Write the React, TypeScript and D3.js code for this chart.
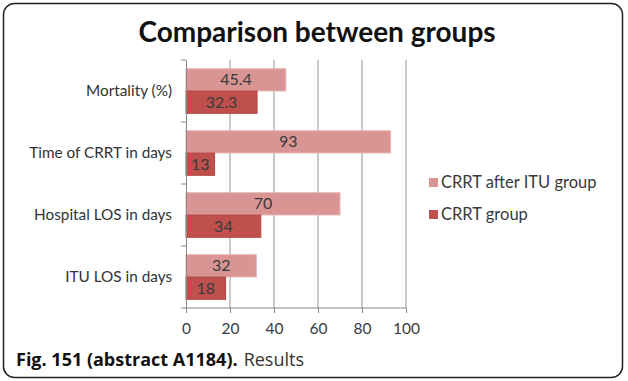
import * as d3 from "d3";
import { useEffect, useRef } from "react";

const categories = ["Mortality (%)", "Time of CRRT in days", "Hospital LOS in days", "ITU LOS in days"];
const seriesNames = ["CRRT after ITU group", "CRRT group"];
const afterItu = [45.4, 93, 70, 32];
const crrtGroup = [32.3, 13, 34, 18];
const xTicks = [0, 20, 40, 60, 80, 100];
const colors = ["#d99594", "#c0504d"];
const strokes = ["#e8b7b6", "#b24542"];

export default function App() {
  const svgRef = useRef<SVGSVGElement>(null);

  useEffect(() => {
    const width = 628, height = 381;
    const svg = d3.select(svgRef.current).attr("width", width).attr("height", height);
    svg.selectAll("*").remove();
    const font = "Lato, 'Open Sans', sans-serif";

    // frame
    svg.append("rect")
      .attr("x", 3.5).attr("y", 3.5).attr("width", 619).attr("height", 374)
      .attr("rx", 11).attr("fill", "#fff").attr("stroke", "#222").attr("stroke-width", 1.5);

    svg.append("text")
      .attr("x", 317).attr("y", 42)
      .attr("text-anchor", "middle")
      .style("font-family", font).style("font-weight", "bold").style("font-size", "28px")
      .attr("fill", "#111")
      .text("Comparison between groups");

    const x = d3.scaleLinear([0, 100], [186, 406]);
    const y = d3.scaleBand(categories, [60, 308]);
    const inner = d3.scaleBand([0, 1], [0, y.bandwidth()]).paddingOuter(0.39).paddingInner(0);

    // gridlines
    svg.append("g").selectAll("line").data(xTicks.slice(1)).join("line")
      .attr("x1", d => x(d)).attr("x2", d => x(d))
      .attr("y1", 60).attr("y2", 308)
      .attr("stroke", "#a6a6a6").attr("stroke-width", 1.2);

    const series = [afterItu, crrtGroup];
    series.forEach((vals, si) => {
      const g = svg.append("g");
      g.selectAll("rect").data(vals).join("rect")
        .attr("x", x(0))
        .attr("y", (d, i) => y(categories[i])! + inner(si)!)
        .attr("width", d => x(d) - x(0))
        .attr("height", inner.bandwidth())
        .attr("fill", colors[si])
        .attr("stroke", strokes[si]).attr("stroke-width", 1);
      g.selectAll("text").data(vals).join("text")
        .attr("x", d => (x(d) + x(0)) / 2)
        .attr("y", (d, i) => y(categories[i])! + inner(si)! + inner.bandwidth() / 2 + 5.5)
        .attr("text-anchor", "middle")
        .style("font-family", font).style("font-size", "16px")
        .attr("fill", "#3a3a3a")
        .text(d => String(d));
    });

    // x axis
    const xAxis = svg.append("g").attr("transform", "translate(0,308)")
      .call(d3.axisBottom(x).tickValues(xTicks).tickSize(5).tickPadding(10));
    xAxis.select(".domain").attr("stroke", "#888").attr("d", "M186,0H406");
    xAxis.selectAll(".tick line").attr("stroke", "#888");
    xAxis.selectAll("text").style("font-family", font).style("font-size", "15.5px").attr("fill", "#3a3a3a");

    // y axis
    const yAxis = svg.append("g").attr("transform", "translate(186,0)")
      .call(d3.axisLeft(y).tickSize(0).tickPadding(14));
    yAxis.select(".domain").attr("stroke", "#888");
    yAxis.selectAll("text").style("font-family", font).style("font-size", "15.3px").attr("fill", "#333");
    svg.append("g").selectAll("line").data(d3.range(categories.length + 1)).join("line")
      .attr("x1", 181).attr("x2", 186)
      .attr("y1", i => 60 + i * y.step()).attr("y2", i => 60 + i * y.step())
      .attr("stroke", "#888");

    // legend
    const leg = svg.append("g").selectAll("g").data(seriesNames).join("g")
      .attr("transform", (d, i) => `translate(429,${178 + i * 32})`);
    leg.append("rect").attr("width", 9).attr("height", 9).attr("fill", (d, i) => colors[i]);
    leg.append("text").attr("x", 12).attr("y", 10)
      .style("font-family", font).style("font-size", "16.5px").attr("fill", "#3a3a3a")
      .text(d => d);

    // caption
    const cap = svg.append("text").attr("x", 16).attr("y", 366)
      .style("font-family", "'Open Sans', sans-serif").style("font-size", "18px").attr("fill", "#111");
    cap.append("tspan").style("font-weight", "bold").text("Fig. 151 (abstract A1184).");
    cap.append("tspan").attr("dx", 6).attr("fill", "#333").text("Results");
  }, []);

  return <svg ref={svgRef} style={{ position: "absolute", left: 0, top: 0 }} />;
}
